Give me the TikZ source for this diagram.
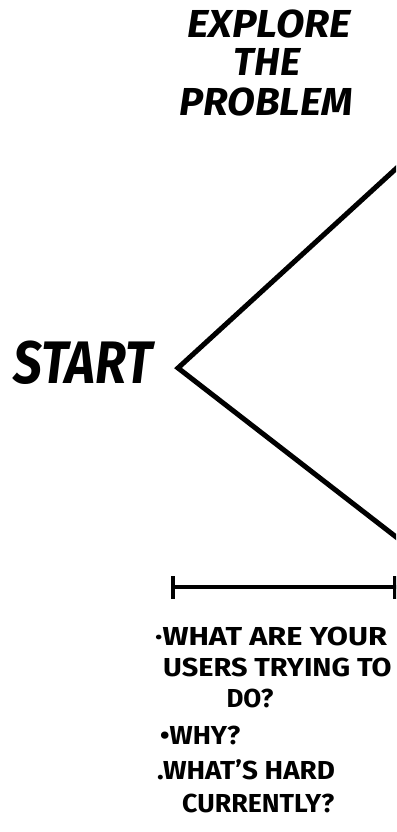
\documentclass[tikz,border=0pt]{standalone}
\usepackage{fontspec}
\setmainfont{Fira Sans}
\begin{document}
\begin{tikzpicture}[x=1pt,y=-1pt,
  headtext/.style={inner sep=0pt, font=\bfseries\itshape\fontsize{39}{39}\selectfont},
  starttext/.style={inner sep=0pt, font=\bfseries\itshape\fontsize{60}{60}\selectfont},
  bullettext/.style={inner sep=0pt, anchor=west, font=\bfseries\fontsize{26}{26}\selectfont},
  wedge/.style={line width=5pt, line join=miter},
  bar/.style={line width=4pt}]
\useasboundingbox (0,0) rectangle (396,832);
\clip (0,0) rectangle (396,832);
% heading
\node[headtext] (h1) at (269,24) {\scalebox{1.06}[1]{EXPLORE}};
\node[headtext] (h2) at (267,62) {THE};
\node[headtext] (h3) at (266,102) {\scalebox{1.04}[1]{PROBLEM}};
% start
\node[starttext] (start) at (83,363) {\scalebox{0.85}[1]{START}};
% wedge
\coordinate (v) at (178,368);
\coordinate (top) at (400,165);
\coordinate (bot) at (400,540);
\draw[wedge] (top) -- (v) -- (bot);
% bar
\coordinate (bl) at (173,587);
\coordinate (br) at (400,587);
\coordinate (blt) at (173,576);
\coordinate (blb) at (173,599);
\coordinate (brt) at (395,576);
\coordinate (brb) at (395,599);
\draw[bar] (bl) -- (br);
\draw[bar] (blt) -- (blb);
\draw[bar] (brt) -- (brb);
% bullets
\node[bullettext] (b1) at (155,636) {\scalebox{1.18}[1]{·WHAT ARE YOUR}};
\node[bullettext] (b2) at (163,667) {\scalebox{1.11}[1]{USERS TRYING TO}};
\node[bullettext, anchor=center] (b3) at (250,698) {DO?};
\node[bullettext] (b4) at (160,735) {\scalebox{1.05}[1]{•WHY?}};
\node[bullettext] (b5) at (157,770) {\scalebox{1.07}[1]{.WHAT’S HARD}};
\node[bullettext] (b6) at (182,803) {\scalebox{1.03}[1]{CURRENTLY?}};
\end{tikzpicture}
\end{document}
